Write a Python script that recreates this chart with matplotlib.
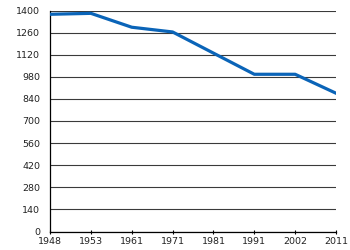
import matplotlib
matplotlib.use("Agg")
import matplotlib.pyplot as plt

years = ["1948", "1953", "1961", "1971", "1981", "1991", "2002", "2011"]
population = [1376, 1382, 1294, 1264, 1130, 996, 996, 876]
yticks = list(range(0, 1401, 140))

plt.rcParams['font.family'] = ['DejaVu Sans']

fig = plt.figure(figsize=(3.5, 2.5), dpi=100)
ax = fig.add_axes([0.143, 0.074, 0.817, 0.884])

x = list(range(len(years)))
ax.plot(x, population, color="#0a64b8", linewidth=2.3, solid_joinstyle="round", zorder=3)

ax.set_xlim(0, len(years) - 1)
ax.set_ylim(0, 1400)
ax.set_xticks(x)
ax.set_xticklabels(years)
ax.set_yticks(yticks)
ax.yaxis.grid(True, color="#3a3a3a", linewidth=0.8)
ax.set_axisbelow(True)

for s in ["top", "right"]:
    ax.spines[s].set_visible(False)
ax.spines["left"].set_linewidth(0.9)
ax.spines["bottom"].set_linewidth(0.9)
ax.tick_params(axis="y", length=0, labelsize=6.8, pad=7, labelcolor="#222222")
ax.tick_params(axis="x", length=3, width=0.8, direction="inout", labelsize=6.8, pad=2.5, labelcolor="#222222")

fig.savefig("out.png", dpi=100)
